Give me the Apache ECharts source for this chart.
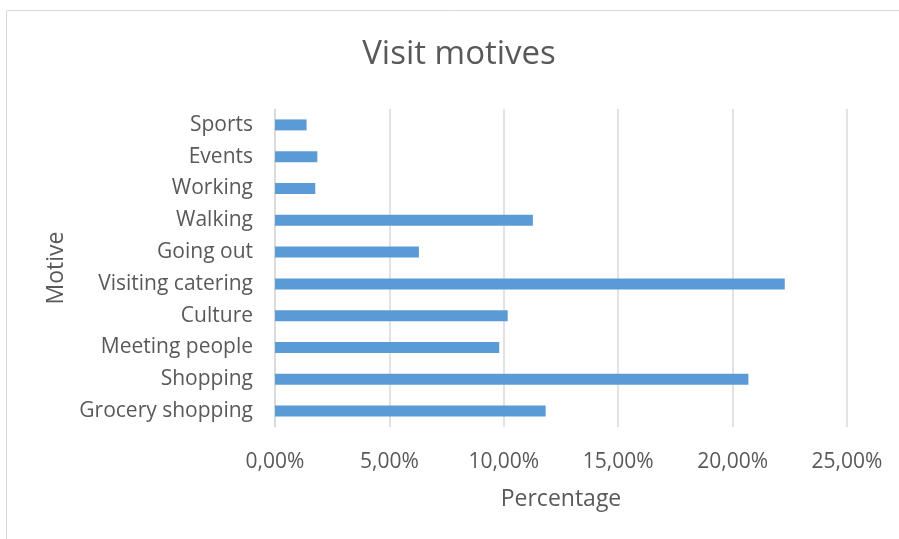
<!DOCTYPE html>
<html>
<head>
<meta charset="utf-8">
<script src="https://cdn.jsdelivr.net/npm/echarts@6/dist/echarts.min.js"></script>
<style>html,body{margin:0;padding:0;background:#fff;}#c{width:899px;height:539px;}</style>
</head>
<body>
<div id="c"></div>
<script>
const categories = ["Grocery shopping","Shopping","Meeting people","Culture","Visiting catering","Going out","Walking","Working","Events","Sports"];
const values = [11.83, 20.69, 9.80, 10.17, 22.28, 6.29, 11.27, 1.76, 1.85, 1.38];
const xTicks = [0, 5, 10, 15, 20, 25];

const FONT = "'Open Sans', sans-serif";
const TXT = '#595959';
const chart = echarts.init(document.getElementById('c'), null, {renderer:'canvas'});
chart.setOption({
  animation: false,
  backgroundColor: '#fff',
  graphic: [{
    type: 'polyline', shape: {points: [[6.5, 539], [6.5, 10.5], [899, 10.5]]},
    style: {stroke: '#d9d9d9', lineWidth: 1, fill: null}
  }, {
    type: 'text', x: 459, y: 55,
    style: {text: 'Visit motives', fontFamily: FONT, fontSize: 33, fill: TXT,
      textAlign: 'center', textVerticalAlign: 'middle'}
  }],
  grid: {left: 275, right: 52, top: 109, bottom: 112},
  xAxis: {
    type: 'value', min: xTicks[0], max: xTicks[xTicks.length-1], interval: 5,
    name: 'Percentage', nameLocation: 'middle', nameGap: 61,
    nameTextStyle: {fontFamily: FONT, fontSize: 23, color: TXT},
    axisLine: {show: false}, axisTick: {show: false},
    axisLabel: {fontFamily: FONT, fontSize: 21, color: TXT, margin: 25,
      formatter: v => v.toFixed(2).replace('.', ',') + '%'},
    splitLine: {lineStyle: {color: '#d9d9d9', width: 1.5}}
  },
  yAxis: {
    type: 'category', data: categories,
    name: 'Motive', nameLocation: 'middle', nameGap: 207, nameRotate: 90,
    nameTextStyle: {fontFamily: FONT, fontSize: 23, color: TXT},
    axisLine: {show: true, lineStyle: {color: '#d9d9d9', width: 1.5}},
    axisTick: {show: false},
    axisLabel: {fontFamily: FONT, fontSize: 21, color: TXT, margin: 22, padding: [3, 0, 0, 0]}
  },
  series: [{
    type: 'bar', data: values, barWidth: 11,
    itemStyle: {color: '#5b9bd5'}
  }]
});
</script>
</body>
</html>
